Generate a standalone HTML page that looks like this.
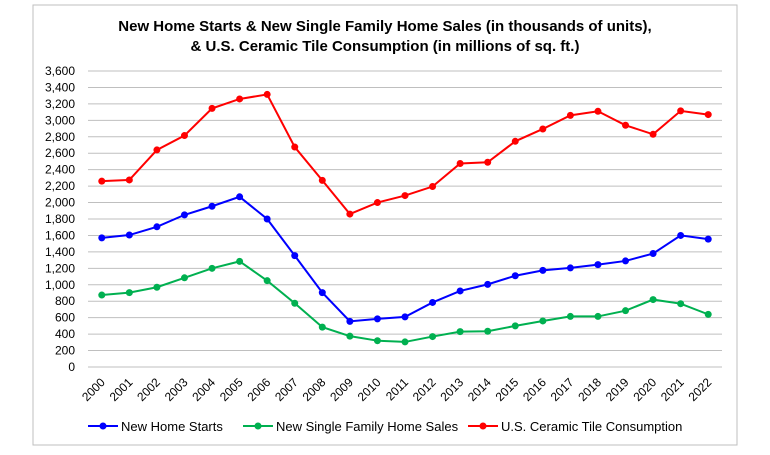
<!DOCTYPE html>
<html><head><meta charset="utf-8"><style>
body{margin:0;background:#fff;font-family:"Liberation Sans",sans-serif;}
svg text{font-family:"Liberation Sans",sans-serif;}
</style></head><body>
<svg width="770" height="450">
<rect x="33" y="5" width="704" height="440" fill="#fff" stroke="#bfbfbf"/>
<text x="385" y="31" text-anchor="middle" font-size="15" font-weight="bold" fill="#000">New Home Starts &amp; New Single Family Home Sales (in thousands of units),</text>
<text x="385" y="51" text-anchor="middle" font-size="15" font-weight="bold" fill="#000">&amp; U.S. Ceramic Tile Consumption (in millions of sq. ft.)</text>
<g id="grid"></g><g id="yt"></g><g id="xt"></g><g id="series"></g>
<g>
<g><line x1="88" y1="426" x2="118" y2="426" stroke="#0000ff" stroke-width="2"/><circle cx="103" cy="426" r="3.5" fill="#0000ff"/><text x="121" y="431" font-size="13">New Home Starts</text></g>
<g><line x1="243" y1="426" x2="273" y2="426" stroke="#00b050" stroke-width="2"/><circle cx="258" cy="426" r="3.5" fill="#00b050"/><text x="276" y="431" font-size="13">New Single Family Home Sales</text></g>
<g><line x1="468" y1="426" x2="498" y2="426" stroke="#ff0000" stroke-width="2"/><circle cx="483" cy="426" r="3.5" fill="#ff0000"/><text x="501" y="431" font-size="13">U.S. Ceramic Tile Consumption</text></g>
</g>
</svg>
<script>
const years=["2000","2001","2002","2003","2004","2005","2006","2007","2008","2009","2010","2011","2012","2013","2014","2015","2016","2017","2018","2019","2020","2021","2022"];
const yTicks=[0,200,400,600,800,1000,1200,1400,1600,1800,2000,2200,2400,2600,2800,3000,3200,3400,3600];
const starts=[1570,1605,1705,1850,1955,2070,1800,1355,905,555,585,610,785,925,1005,1110,1175,1205,1245,1290,1380,1600,1555];
const sales=[875,905,970,1085,1200,1285,1050,775,485,375,320,305,370,430,435,500,560,615,615,685,820,770,640];
const tile=[2260,2275,2640,2815,3145,3260,3315,2675,2270,1860,2000,2085,2195,2475,2490,2745,2895,3060,3110,2940,2830,3115,3070];
const L=88,R=722,T=71,B=367,YMAX=3600;
const NS="http://www.w3.org/2000/svg";
const xp=i=>L+(R-L)/years.length*(i+0.5);
const yp=v=>B-(B-T)*v/YMAX;
function mk(t,a,p){const e=document.createElementNS(NS,t);for(const k in a)e.setAttribute(k,a[k]);p.appendChild(e);return e;}
const grid=document.getElementById('grid'),yt=document.getElementById('yt'),xt=document.getElementById('xt'),ser=document.getElementById('series');
yTicks.forEach(v=>{
 const l=mk('line',{x1:L,x2:R,y1:yp(v),y2:yp(v),stroke:'#bfbfbf','stroke-width':1},grid);
 
 
 const t=mk('text',{x:L-13,y:yp(v)+4,'text-anchor':'end','font-size':12},yt);
 t.textContent=v.toLocaleString('en-US');
 
 
});
years.forEach((y,i)=>{
 const x=xp(i)+4,yy=383;
 const t=mk('text',{x:x,y:yy,'text-anchor':'end','font-size':12,transform:`rotate(-45 ${x} ${yy})`},xt);
 t.textContent=y;
 
 
});
[[tile,'#ff0000','tile-consumption'],[starts,'#0000ff','new-home-starts'],[sales,'#00b050','home-sales']].forEach(([d,c,n])=>{
 const g=mk('g',{},ser);
 
 
 const pl=mk('polyline',{points:d.map((v,i)=>xp(i)+','+yp(v)).join(' '),fill:'none',stroke:c,'stroke-width':2},g);
 
 
 d.forEach((v,i)=>{
  const p=mk('circle',{cx:xp(i),cy:yp(v),r:3.5,fill:c},g);
  
  
 });
});
</script>
</body></html>
